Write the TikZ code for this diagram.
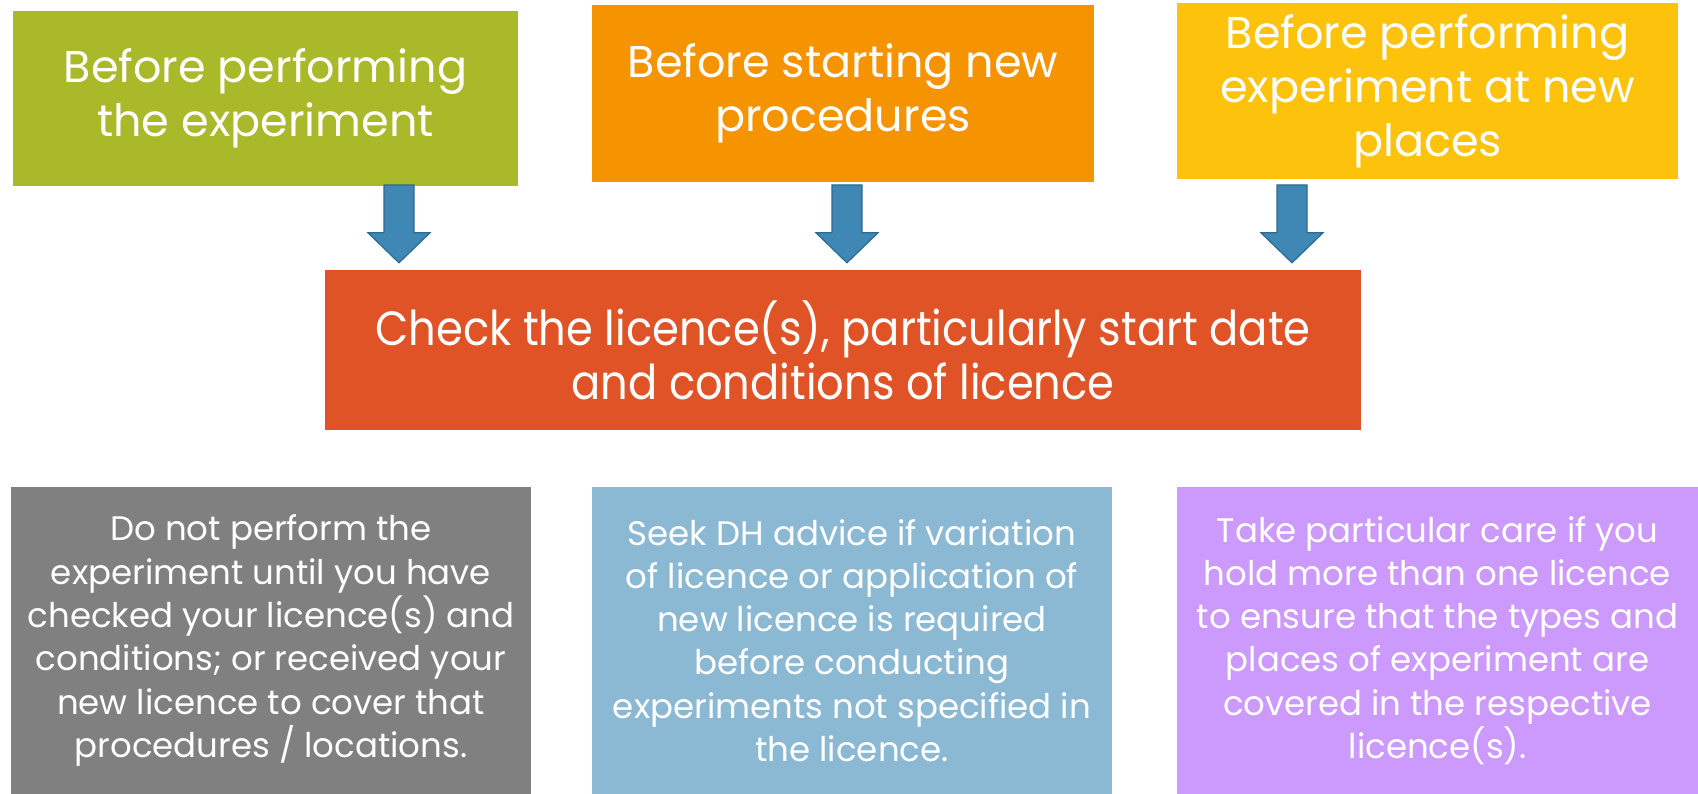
\documentclass[tikz,border=0pt]{standalone}
\usepackage{fontspec}
\setmainfont{Poppins}
\newfontfamily\condfont[FakeStretch=0.9]{Poppins}
\usetikzlibrary{calc}
\definecolor{cgreen}{HTML}{A9B92A}
\definecolor{corange}{HTML}{F59300}
\definecolor{cyellow}{HTML}{FDC30C}
\definecolor{cred}{HTML}{E05326}
\definecolor{cgray}{HTML}{808080}
\definecolor{cblue}{HTML}{8BB9D4}
\definecolor{cpurple}{HTML}{CC99FC}
\definecolor{carrow}{HTML}{3F88B5}
\definecolor{carrowline}{HTML}{2C6A90}
\tikzset{
  box/.style={draw=none, inner sep=0pt, text=white, align=center},
  topbox/.style={box, font=\fontsize{44.5}{54}\selectfont},
  midbox/.style={box, font=\condfont\fontsize{48}{54}\selectfont},
  botbox/.style={box, font=\fontsize{34}{43.3}\selectfont},
  arrowsty/.style={fill=carrow, draw=carrowline, line width=1.2pt, line join=miter}
}
\newcommand\blockarrow[2]{%
  \draw[arrowsty] let \p1=(#1), \p2=(#2) in
    (\x1-15pt,\y1) -- (\x1+15pt,\y1) -- (\x1+15pt,\y2+30pt) -- (\x1+31pt,\y2+30pt)
    -- (\x1,\y2) -- (\x1-31pt,\y2+30pt) -- (\x1-15pt,\y2+30pt) -- cycle;}
\begin{document}
\begin{tikzpicture}[x=1pt,y=1pt]
\useasboundingbox[fill=white] (0,0) rectangle (1698,794);
% top boxes
\node[topbox, fill=cgreen, minimum width=505pt, minimum height=175pt] (b1) at (265.5,695.5)
  {Before performing\\the experiment};
\node[topbox, fill=corange, minimum width=502pt, minimum height=177pt] (b2) at (843,700.5)
  {Before starting new\\procedures};
\node[topbox, fill=cyellow, minimum width=501pt, minimum height=176pt] (b3) at (1427.5,703)
  {Before performing\\experiment at new\\places};
% center box
\node[midbox, fill=cred, minimum width=1036pt, minimum height=160pt] (c) at (843,444)
  {Check the licence(s), particularly start date\\and conditions of licence};
% bottom boxes
\node[botbox, fill=cgray, minimum width=520pt, minimum height=307pt] (d1) at (271,153.5)
  {Do not perform the\\experiment until you have\\checked your licence(s) and\\conditions; or received your\\new licence to cover that\\procedures / locations.};
\node[botbox, fill=cblue, minimum width=520pt, minimum height=307pt] (d2) at (852,153.5)
  {Seek DH advice if variation\\of licence or application of\\new licence is required\\before conducting\\experiments not specified in\\the licence.};
\node[botbox, fill=cpurple, minimum width=521pt, minimum height=307pt] (d3) at (1437.5,153.5)
  {Take particular care if you\\hold more than one licence\\to ensure that the types and\\places of experiment are\\covered in the respective\\licence(s).};
% arrows
\coordinate (a1t) at (399,609);
\coordinate (a1b) at ($(c.north -| a1t)+(0,7)$);
\coordinate (a2t) at (847,609);
\coordinate (a2b) at ($(c.north -| a2t)+(0,7)$);
\coordinate (a3t) at (1292,609);
\coordinate (a3b) at ($(c.north -| a3t)+(0,7)$);
\blockarrow{a1t}{a1b}
\blockarrow{a2t}{a2b}
\blockarrow{a3t}{a3b}
\end{tikzpicture}
\end{document}
